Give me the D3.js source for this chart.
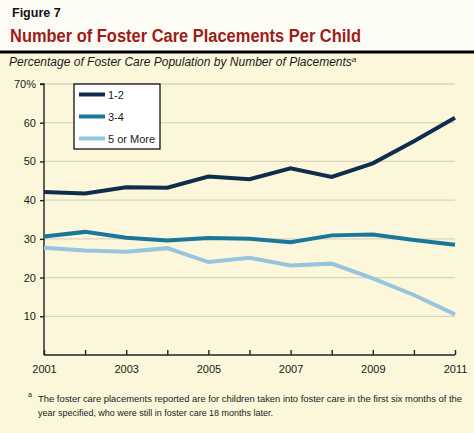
<!DOCTYPE html>
<html>
<head>
<meta charset="utf-8">
<script src="https://cdn.jsdelivr.net/npm/d3@7"></script>
<style>
  body { margin: 0; background: #fdfcf4; }
  text { font-family: "Liberation Sans", Arial, sans-serif; }
</style>
</head>
<body>
<div id="chart"></div>
<script>
const years = [2001, 2002, 2003, 2004, 2005, 2006, 2007, 2008, 2009, 2010, 2011];
const seriesNames = ["1-2", "3-4", "5 or More"];
const oneToTwo = [42.1, 41.7, 43.3, 43.2, 46.1, 45.4, 48.2, 46.0, 49.5, 55.2, 61.3];
const threeToFour = [30.6, 31.8, 30.3, 29.6, 30.2, 30.0, 29.1, 30.9, 31.1, 29.7, 28.5];
const fiveOrMore = [27.7, 27.0, 26.7, 27.6, 24.0, 25.1, 23.1, 23.6, 19.8, 15.5, 10.5];
const yTicks = [10, 20, 30, 40, 50, 60, 70];
const xTicks = [2001, 2003, 2005, 2007, 2009, 2011];
const colors = ["#0f2d4c", "#19789a", "#96c6dd"];

const W = 474, H = 433;
const svg = d3.select("#chart").append("svg")
  .attr("width", W)
  .attr("height", H);

// cream panel below the rule
svg.append("rect")
  .attr("x", 0).attr("y", 52)
  .attr("width", W).attr("height", H - 52)
  .attr("fill", "#fcf7da");

svg.append("text")
  .attr("x", 12).attr("y", 17)
  .style("font-size", "12.5px")
  .style("font-weight", "bold")
  .attr("fill", "#111")
  .text("Figure 7");

svg.append("text")
  .attr("x", 10).attr("y", 41.5)
  .style("font-size", "17.5px")
  .style("font-weight", "bold")
  .attr("fill", "#9c1c20")
  .attr("textLength", 351)
  .attr("lengthAdjust", "spacingAndGlyphs")
  .text("Number of Foster Care Placements Per Child");

svg.append("rect")
  .attr("x", 0).attr("y", 50.5)
  .attr("width", W).attr("height", 3)
  .attr("fill", "#000");

const sub = svg.append("text")
  .attr("x", 9).attr("y", 66)
  .style("font-size", "12px")
  .style("font-style", "italic")
  .attr("fill", "#1a1a1a");
sub.append("tspan").text("Percentage of Foster Care Population by Number of Placements");
sub.append("tspan").attr("dy", -4).style("font-size", "8px").text("a");

// scales
const x = d3.scaleLinear().domain([2001, 2011]).range([44, 455]);
const y = d3.scaleLinear().domain([0, 70]).range([355, 84]);

// gridlines
svg.selectAll("line.grid")
  .data(yTicks)
  .enter().append("line")
  .attr("class", "grid")
  .attr("x1", x(2001)).attr("x2", x(2011))
  .attr("y1", d => y(d)).attr("y2", d => y(d))
  .style("stroke", "#d9d4c2")
  .style("stroke-width", 1.3);

// y axis
const yAxis = d3.axisLeft(y)
  .tickValues(yTicks)
  .tickSize(4)
  .tickPadding(4)
  .tickFormat(d => d === 70 ? "70%" : d);
const gy = svg.append("g")
  .attr("transform", "translate(" + x(2001) + ",0)")
  .call(yAxis);
gy.select(".domain").attr("d", "M-4," + y(70) + "H0V" + y(0));

// x axis, ticks pointing up
const xAxis = d3.axisBottom(x)
  .tickValues(years)
  .tickSize(-5)
  .tickPadding(10)
  .tickFormat(d => xTicks.includes(d) ? d : "");
const gx = svg.append("g")
  .attr("transform", "translate(0," + y(0) + ")")
  .call(xAxis);
gx.select(".domain").attr("d", "M" + x(2001) + ",0H" + x(2011));

svg.selectAll(".tick text")
  .style("font-family", "'Liberation Sans', Arial, sans-serif")
  .style("font-size", "11px")
  .attr("fill", "#1a1a1a");
svg.selectAll(".domain, .tick line")
  .style("stroke", "#222")
  .style("stroke-width", 1.4);

// series lines
const seriesData = [oneToTwo, threeToFour, fiveOrMore];
const line = d3.line()
  .x((d, i) => x(years[i]))
  .y(d => y(d));

// draw light ones first so the dark line sits on top
[2, 1, 0].forEach(k => {
  svg.append("path")
    .datum(seriesData[k])
    .attr("d", line)
    .attr("fill", "none")
    .attr("stroke", colors[k])
    .attr("stroke-width", 4)
    .attr("stroke-linejoin", "miter");
});

// legend
const lg = svg.append("g").attr("transform", "translate(74,84)");
lg.append("rect")
  .attr("width", 86).attr("height", 65)
  .attr("fill", "#fff")
  .attr("stroke", "#111")
  .attr("stroke-width", 1.3);
seriesNames.forEach((name, i) => {
  const yy = 10.5 + i * 22;
  lg.append("line")
    .attr("x1", 5).attr("x2", 31)
    .attr("y1", yy).attr("y2", yy)
    .attr("stroke", colors[i])
    .attr("stroke-width", 4);
  lg.append("text")
    .attr("x", 34).attr("y", yy + 4)
    .style("font-size", "11px")
    .attr("fill", "#1a1a1a")
    .text(name);
});

// footnote
svg.append("text")
  .attr("x", 28).attr("y", 397)
  .style("font-size", "7px")
  .attr("fill", "#1a1a1a")
  .text("a");
const notes = [
  "The foster care placements reported are for children taken into foster care in the first six months of the",
  "year specified, who were still in foster care 18 months later."
];
const noteLen = [424, 235];
svg.selectAll("text.note")
  .data(notes)
  .enter().append("text")
  .attr("class", "note")
  .attr("x", 38)
  .attr("y", (d, i) => 402 + i * 14)
  .attr("textLength", (d, i) => noteLen[i])
  .attr("lengthAdjust", "spacingAndGlyphs")
  .style("font-size", "9.3px")
  .attr("fill", "#1a1a1a")
  .text(d => d);
</script>
</body>
</html>
